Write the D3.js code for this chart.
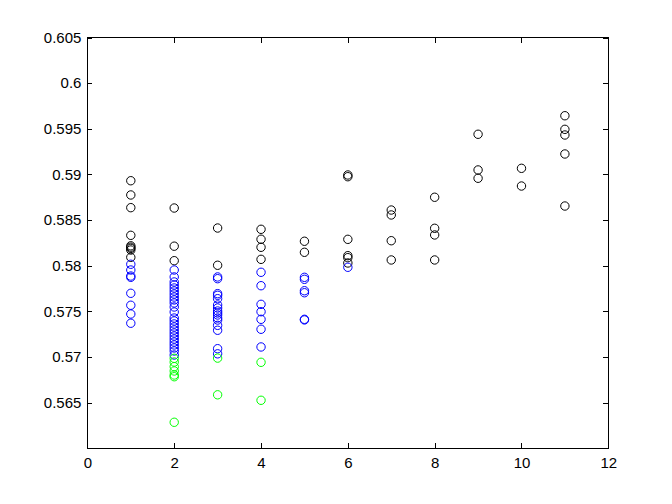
<!DOCTYPE html>
<html>
<head>
<meta charset="utf-8">
<script src="https://cdn.jsdelivr.net/npm/d3@7"></script>
<style>
  html, body { margin: 0; padding: 0; background: #fff; }
  svg { display: block; }
  text { font-family: "Liberation Sans", Arial, Helvetica, sans-serif; font-size: 15px; fill: #000; }
</style>
</head>
<body>
<svg id="chart" width="672" height="504"></svg>
<script>
// ---- data ----
const blackX = [1,1,1,1,1,1,1,1,1,
                2,2,2,
                3,3,
                4,4,4,4,
                5,5,
                6,6,6,6,6,6,
                7,7,7,7,
                8,8,8,8,
                9,9,9,
                10,10,
                11,11,11,11,11];
const blackY = [0.58931,0.58775,0.58636,0.58333,0.58218,0.58203,0.58190,0.58172,0.58092,
                0.58632,0.58214,0.58055,
                0.58413,0.58005,
                0.58399,0.58290,0.58202,0.58070,
                0.58268,0.58147,
                0.58994,0.58975,0.58289,0.58110,0.58088,0.58030,
                0.58610,0.58556,0.58274,0.58063,
                0.58750,0.58410,0.58337,0.58063,
                0.59440,0.59049,0.58958,
                0.59067,0.58873,
                0.59643,0.59494,0.59432,0.59224,0.58654];

const blueX = [1,1,1,1,1,1,1,1,
               2,2,2,2,2,2,2,2,2,2,2,2,2,2,2,2,2,2,2,2,2,2,2,2,2,
               3,3,3,3,3,3,3,3,3,3,3,3,3,3,3,3,
               4,4,4,4,4,4,4,
               5,5,5,5,5,5,
               6];
const blueY = [0.58016,0.57953,0.57887,0.57873,0.57698,0.57567,0.57471,0.57370,
               0.57953,0.57877,0.57822,0.57789,0.57756,0.57723,0.57690,0.57657,0.57625,0.57592,0.57548,
               0.57493,0.57427,0.57395,0.57362,0.57329,0.57296,0.57263,0.57230,0.57197,0.57164,0.57132,
               0.57099,0.57066,0.57022,
               0.57877,0.57858,0.57694,0.57676,0.57639,0.57570,0.57537,0.57504,0.57482,0.57460,0.57427,
               0.57405,0.57347,0.57293,0.57091,0.57035,
               0.57928,0.57781,0.57577,0.57496,0.57413,0.57304,0.57110,
               0.57873,0.57851,0.57726,0.57704,0.57413,0.57406,
               0.57983];

const greenX = [2,2,2,2,2,2,2,
                3,3,
                4,4];
const greenY = [0.56986,0.56945,0.56894,0.56847,0.56803,0.56784,0.56285,
                0.56988,0.56586,
                0.56942,0.56526];

const xTicks = [0,2,4,6,8,10,12];
const yTicks = [0.565,0.57,0.575,0.58,0.585,0.59,0.595,0.6,0.605];
const yTickLabels = ["0.565","0.57","0.575","0.58","0.585","0.59","0.595","0.6","0.605"];

// ---- layout ----
const L = 87.4, R = 608.3, T = 37.5, B = 448.3;
const svg = d3.select("#chart");
const x = d3.scaleLinear().domain([0, 12]).range([L, R]);
const y = d3.scaleLinear().domain([0.56, 0.605]).range([B, T]);

// points
function drawSeries(xs, ys, color) {
  const pts = xs.map((v, i) => [v, ys[i]]);
  svg.append("g").selectAll("circle").data(pts).join("circle")
    .attr("cx", d => x(d[0]))
    .attr("cy", d => y(d[1]))
    .attr("r", 4.2)
    .attr("fill", "none")
    .attr("stroke", color)
    .attr("stroke-width", 1);
}
drawSeries(blackX, blackY, "#000000");
drawSeries(blueX, blueY, "#0000ff");
drawSeries(greenX, greenY, "#00ff00");

// axes (MATLAB style: inward ticks on all four sides, box)
const tickLen = 5;
const axisG = svg.append("g").attr("shape-rendering", "crispEdges");

axisG.append("g").attr("transform", `translate(0,${B})`)
  .call(d3.axisBottom(x).tickValues(xTicks).tickSize(-tickLen).tickPadding(9).tickFormat(d3.format("d")));
axisG.append("g").attr("transform", `translate(0,${T})`)
  .call(d3.axisTop(x).tickValues(xTicks).tickSize(-tickLen).tickFormat(""));
axisG.append("g").attr("transform", `translate(${L},0)`)
  .call(d3.axisLeft(y).tickValues(yTicks).tickSize(-tickLen).tickPadding(6)
        .tickFormat((d, i) => yTickLabels[i]));
axisG.append("g").attr("transform", `translate(${R},0)`)
  .call(d3.axisRight(y).tickValues(yTicks).tickSize(-tickLen).tickFormat(""));

axisG.selectAll(".domain").remove();
axisG.selectAll("line").attr("stroke", "#000");
axisG.selectAll("text").attr("font-size", null).attr("font-family", null);

axisG.append("rect")
  .attr("x", L).attr("y", T)
  .attr("width", R - L).attr("height", B - T)
  .attr("fill", "none").attr("stroke", "#000").attr("stroke-width", 1);
</script>
</body>
</html>
